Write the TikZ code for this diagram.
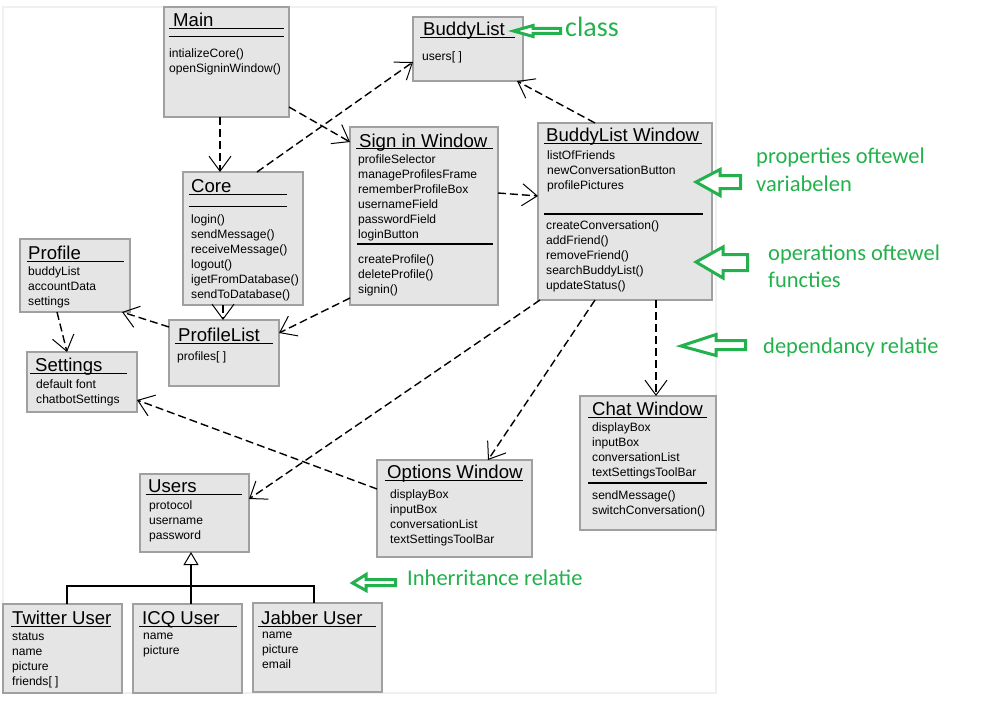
\documentclass[tikz,border=0pt]{standalone}
\usepackage{fontspec}
\setmainfont{Liberation Sans}
\newfontfamily\notefont{Carlito}
\usetikzlibrary{arrows.meta, positioning}
\definecolor{boxgray}{HTML}{E5E5E5}
\definecolor{edgegray}{HTML}{A0A0A0}
\definecolor{notegreen}{HTML}{22B14C}

\begin{document}
\begin{tikzpicture}[x=1pt, y=-1pt,
    classbox/.style={draw=edgegray, fill=boxgray, line width=2.5pt, anchor=north west, inner sep=0pt, outer sep=0pt},
    classtitle/.style={anchor=base west, inner sep=0pt, font=\fontsize{18.6}{22}\selectfont},
    members/.style={anchor=north west, inner sep=0pt, yshift=-3.5pt, align=left, font=\fontsize{12.1}{15}\selectfont, execute at begin node=\strut},
    uline/.style={line width=1pt},
    sepline/.style={line width=1.5pt},
    dep/.style={dash pattern=on 8pt off 4pt, line width=1.4pt, -{Straight Barb[length=15pt, width=22pt, line width=1pt]}},
    inh/.style={line width=1.3pt, -{Triangle[open, length=13pt, width=15pt, line width=1pt]}},
    note/.style={anchor=base west, inner sep=0pt, text=notegreen, font=\notefont\fontsize{22.5}{27}\selectfont},
    hint/.style={draw=notegreen, line width=3pt, fill=white, line join=miter}
  ]
  \useasboundingbox (0,0) rectangle (981,709);
  \draw[gray!12, line width=1.5pt] (3,7) rectangle (716,693);

  % classes
  \node[classbox, minimum width=125, minimum height=110] (main) at (164,7) {};
  \node[classbox, minimum width=110, minimum height=64] (buddylist) at (413,17) {};
  \node[classbox, minimum width=148, minimum height=178] (signin) at (350,127) {};
  \node[classbox, minimum width=120, minimum height=133] (core) at (183,172) {};
  \node[classbox, minimum width=110, minimum height=73] (profile) at (20,239) {};
  \node[classbox, minimum width=110, minimum height=60] (settings) at (27,352) {};
  \node[classbox, minimum width=110, minimum height=66] (profilelist) at (169,320) {};
  \node[classbox, minimum width=174, minimum height=177] (blw) at (538,123) {};
  \node[classbox, minimum width=136, minimum height=134] (chat) at (580,396) {};
  \node[classbox, minimum width=155, minimum height=97] (options) at (377,460) {};
  \node[classbox, minimum width=109, minimum height=78] (users) at (140,474) {};
  \node[classbox, minimum width=119, minimum height=89] (twitter) at (3,604) {};
  \node[classbox, minimum width=109, minimum height=89] (icq) at (133,604) {};
  \node[classbox, minimum width=129, minimum height=89] (jabber) at (253,603) {};

  \node[classtitle] (mainT) at (173,27) {Main};
  \node[classtitle] (buddylistT) at (423,36) {BuddyList};
  \node[classtitle] (signinT) at (359,147) {Sign in Window};
  \node[classtitle] (coreT) at (191,192) {Core};
  \node[classtitle] (profileT) at (28,259) {Profile};
  \node[classtitle] (settingsT) at (35,371) {Settings};
  \node[classtitle] (profilelistT) at (178,341) {ProfileList};
  \node[classtitle] (blwT) at (546,141) {BuddyList Window};
  \node[classtitle] (chatT) at (592,415) {Chat Window};
  \node[classtitle] (optionsT) at (387,478) {Options Window};
  \node[classtitle] (usersT) at (148,492) {Users};
  \node[classtitle] (twitterT) at (12,624) {Twitter User};
  \node[classtitle] (icqT) at (142,624) {ICQ User};
  \node[classtitle] (jabberT) at (261,624) {Jabber User};

  \draw[uline] (169,29) -- (284,29);
  \draw[uline] (169,37) -- (284,37);
  \draw[uline] (420,38) -- (515,38);
  \draw[uline] (356,148.5) -- (493,148.5);
  \draw[uline] (189,194) -- (287,194);
  \draw[uline] (189,206) -- (287,206);
  \draw[uline] (27,261) -- (124,261);
  \draw[uline] (30,373) -- (127,373);
  \draw[uline] (175,343) -- (273,343);
  \draw[uline] (544,143) -- (702,143);
  \draw[uline] (588,417) -- (707,417);
  \draw[uline] (385,480) -- (523,480);
  \draw[uline] (146,494) -- (242,494);
  \draw[uline] (11,626) -- (111,626);
  \draw[uline] (139,626) -- (237,626);
  \draw[uline] (258,626) -- (376,626);
  \draw[sepline] (357,244) -- (493,244);
  \draw[sepline] (544,214) -- (703,214);
  \draw[sepline] (588,483) -- (707,483);

  \node[members] (mainM) at (169,45) {intializeCore()\\openSigninWindow()};
  \node[members] (buddylistA) at (422,46) {users[ ]};
  \node[members] (signinA) at (358,151) {profileSelector\\manageProfilesFrame\\rememberProfileBox\\usernameField\\passwordField\\loginButton};
  \node[members] (signinM) at (358,251) {createProfile()\\deleteProfile()\\signin()};
  \node[members] (coreM) at (191,211) {login()\\sendMessage()\\receiveMessage()\\logout()\\igetFromDatabase()\\sendToDatabase()};
  \node[members] (profileA) at (28,263) {buddyList\\accountData\\settings};
  \node[members] (settingsA) at (36,376) {default font\\chatbotSettings};
  \node[members] (profilelistA) at (177,346) {profiles[ ]};
  \node[members] (blwA) at (547,147) {listOfFriends\\newConversationButton\\profilePictures};
  \node[members] (blwM) at (546,217) {createConversation()\\addFriend()\\removeFriend()\\searchBuddyList()\\updateStatus()};
  \node[members] (chatA) at (592,419) {displayBox\\inputBox\\conversationList\\textSettingsToolBar};
  \node[members] (chatM) at (592,487) {sendMessage()\\switchConversation()};
  \node[members] (optionsA) at (390,486) {displayBox\\inputBox\\conversationList\\textSettingsToolBar};
  \node[members] (usersA) at (149,497) {protocol\\username\\password};
  \node[members] (twitterA) at (12,629) {status\\name\\picture\\friends[ ]};
  \node[members] (icqA) at (143,629) {name\\picture};
  \node[members] (jabberA) at (262,628) {name\\picture\\email};

  % dependencies
  \draw[dep] ([xshift=56pt]main.south west) -- ([xshift=37pt]core.north west);
  \draw[dep] ([yshift=10pt]main.south east) -- ([yshift=-15pt]signin.north west);
  \draw[dep] ([xshift=74pt]core.north west) -- ([yshift=19pt]buddylist.south west);
  \draw[dep] ([yshift=-66pt]signin.north east) -- ([yshift=-73pt]blw.north west);
  \draw[dep] ([xshift=57pt]blw.north west) -- ([xshift=-6pt]buddylist.south east);
  \draw[dep] ([xshift=40pt]core.south west) -- ([xshift=54pt]profilelist.north west);
  \draw[dep] ([yshift=7pt]signin.south west) -- ([yshift=-13pt]profilelist.north east);
  \draw[dep] ([yshift=-7pt]profilelist.north west) -- ([xshift=-8pt]profile.south east);
  \draw[dep] ([xshift=37pt]profile.south west) -- ([xshift=40pt]settings.north west);
  \draw[dep] ([yshift=-29pt]options.north west) -- ([yshift=12pt]settings.south east);
  \draw[dep] ([xshift=2pt]blw.south west) -- ([yshift=-25pt]users.north east);
  \draw[dep] ([xshift=57pt]blw.south west) -- ([xshift=111pt]options.north west);
  \draw[dep] ([xshift=118pt]blw.south west) -- ([xshift=76pt]chat.north west);

  % inheritance
  \coordinate (fork) at (191,586);
  \draw[inh] (fork) -- ([xshift=51pt]users.south west);
  \draw[line width=1.3pt] ([xshift=64pt]twitter.north west) -- ++(0,-18) -| ([xshift=61pt]jabber.north west);
  \draw[line width=1.3pt] ([xshift=58pt]icq.north west) -- (fork);

  % notes
  \draw[hint] (513.5,31) -- (533,25.5) -- (533,28.5) -- (560.5,28.5) -- (560.5,33.5) -- (533,33.5) -- (533,36.5) -- cycle;
  \draw[hint] (696,182) -- (720,169.5) -- (720,175.5) -- (740.5,175.5) -- (740.5,188.5) -- (720,188.5) -- (720,195.5) -- cycle;
  \draw[hint] (696,262) -- (723,247) -- (723,254.5) -- (747.5,254.5) -- (747.5,270.5) -- (723,270.5) -- (723,278) -- cycle;
  \draw[hint] (681,346) -- (716,334.5) -- (716,340.5) -- (745.5,340.5) -- (745.5,349.5) -- (716,349.5) -- (716,355.5) -- cycle;
  \draw[hint] (352.5,583) -- (366,574.5) -- (366,579.5) -- (395.5,579.5) -- (395.5,585.5) -- (366,585.5) -- (366,590.5) -- cycle;

  \node[note, font=\notefont\fontsize{28}{32}\selectfont] (classN) at (565,37) {class};
  \node[note] (propN) at (756,163) {properties oftewel};
  \node[note] (propNb) at (756,191) {variabelen};
  \node[note] (opN) at (768,260) {operations oftewel};
  \node[note] (opNb) at (768,287) {functies};
  \node[note] (depN) at (763,353) {dependancy relatie};
  \node[note] (inhN) at (407,585) {Inherritance relatie};
\end{tikzpicture}
\end{document}
